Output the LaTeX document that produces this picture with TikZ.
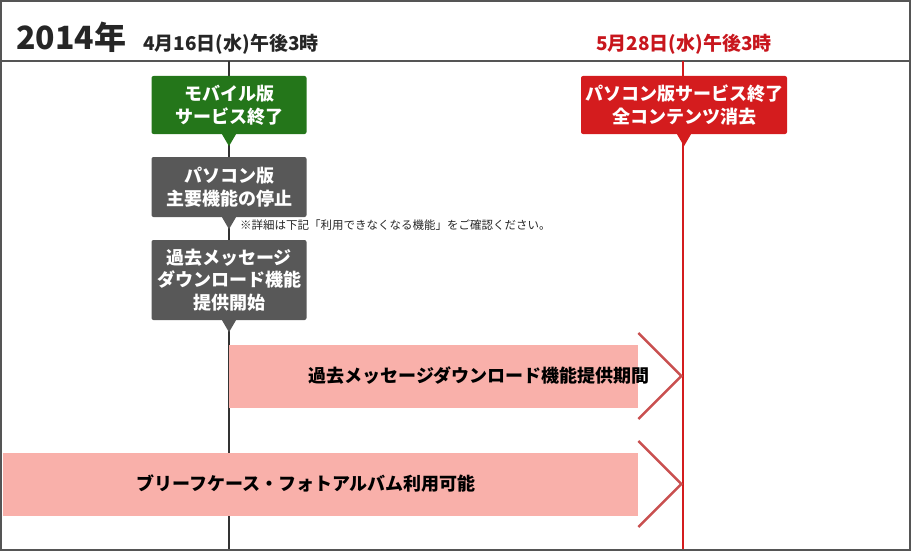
\documentclass[tikz,border=0pt]{standalone}
\usepackage{fontspec}
\setmainfont{Noto Sans CJK JP}
\usepackage{tikz}
\usetikzlibrary{calc}
\definecolor{svframe}{HTML}{555555}
\definecolor{svgreen}{HTML}{24761A}
\definecolor{svgray}{HTML}{585858}
\definecolor{svred}{HTML}{D41C1E}
\definecolor{svdate}{HTML}{C8161D}
\definecolor{svpink}{HTML}{F9B0AA}
\definecolor{svchev}{HTML}{C95050}

\begin{document}
\begin{tikzpicture}[x=1pt,y=-1pt,
  font=\bfseries\fontsize{18}{22.5}\selectfont,
  stepbox/.style={rounded corners=2pt,minimum width=155pt,align=center,text=white,inner sep=2pt},
  band/.style={fill=svpink,minimum height=63pt,inner sep=0pt,anchor=west},
  chevron/.style={draw=svchev,line width=2.5pt},
  tline/.style={line width=1.5pt}
]
\useasboundingbox (0,0) rectangle (911,551);
% frame and header
\draw[svframe,line width=2pt] (1,1) rectangle (910,550);
\draw[svframe,line width=2pt] (1,61) -- (910,61);
\node[anchor=base west,inner sep=0pt,font=\bfseries\fontsize{32}{32}\selectfont,text=black!85] (year) at (16,50) {2014年};
\node[anchor=base west,inner sep=0pt,font=\bfseries\fontsize{19}{22}\selectfont,text=black!85] (day1) at (143,51) {4月16日(水)午後3時};
\node[anchor=base,inner sep=0pt,font=\bfseries\fontsize{19}{22}\selectfont,text=svdate] (day2) at (684,51) {5月28日(水)午後3時};
% timelines
\coordinate (t1top) at (229,61);
\coordinate (t1bot) at (229,549);
\coordinate (t2top) at (683,61);
\coordinate (t2bot) at (683,549);
\draw[tline,black!80] (t1top) -- (t1bot);
\draw[tline,svred] (t2top) -- (t2bot);
% bands
\node[band,minimum width=409pt] (dlband) at (229,376) {};
\node (dltext) at (479,376) {過去メッセージダウンロード機能提供期間};
\draw[chevron] ($(dlband.east)+(0,-43)$) -- ($(dlband.east)+(43,0)$) -- ($(dlband.east)+(0,43)$);
\node[band,minimum width=635pt] (bfband) at (3,484) {};
\node (bftext) at (306,484) {ブリーフケース・フォトアルバム利用可能};
\draw[chevron] ($(bfband.east)+(0,-43)$) -- ($(bfband.east)+(43,0)$) -- ($(bfband.east)+(0,43)$);
% boxes
\node[stepbox,fill=svgreen,minimum height=58pt] (mob) at (229,105) {モバイル版\\サービス終了};
\fill[svgreen] ($(mob.south)+(-7,0)$) -- ($(mob.south)+(7,0)$) -- ($(mob.south)+(0,12)$) -- cycle;
\node[stepbox,fill=svgray,minimum height=60pt] (pcstop) at (229,187) {パソコン版\\主要機能の停止};
\fill[svgray] ($(pcstop.south)+(-7,0)$) -- ($(pcstop.south)+(7,0)$) -- ($(pcstop.south)+(0,12)$) -- cycle;
\node[anchor=west,inner sep=0pt,font=\mdseries\fontsize{11.5}{13}\selectfont,text=black!85] (note) at (240,225) {※詳細は下記「利用できなくなる機能」をご確認ください。};
\node[stepbox,fill=svgray,minimum height=80pt] (dlstart) at (229,280) {過去メッセージ\\ダウンロード機能\\提供開始};
\fill[svgray] ($(dlstart.south)+(-7,0)$) -- ($(dlstart.south)+(7,0)$) -- ($(dlstart.south)+(0,12)$) -- cycle;
\node[stepbox,fill=svred,minimum width=206pt,minimum height=58pt] (pcend) at (684,105) {パソコン版サービス終了\\全コンテンツ消去};
\fill[svred] ($(pcend.south)+(-7,0)$) -- ($(pcend.south)+(7,0)$) -- ($(pcend.south)+(0,12)$) -- cycle;
\end{tikzpicture}
\end{document}
